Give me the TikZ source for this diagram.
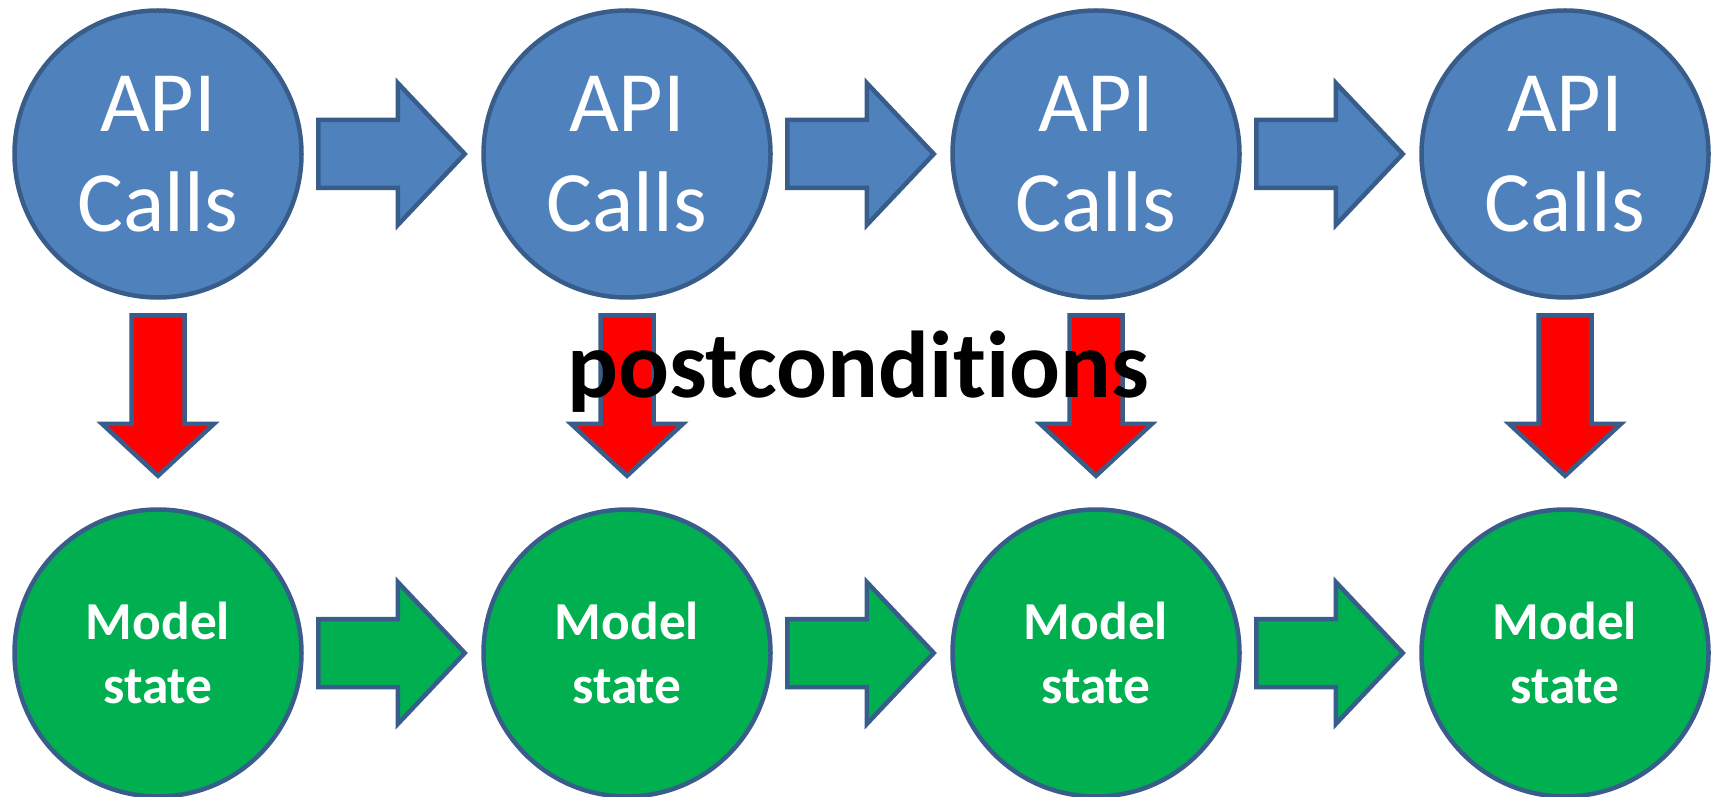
\documentclass[tikz,border=0pt]{standalone}
\usepackage{fontspec}
\setmainfont[Ligatures=CommonOff]{Carlito}
\usetikzlibrary{calc}
\definecolor{callBlue}{HTML}{4F81BD}
\definecolor{edgeBlue}{HTML}{385D8A}
\definecolor{stateGreen}{HTML}{00B050}
\definecolor{postRed}{HTML}{FF0000}

% fat arrow pointing right, from node #1 to node #2
\newcommand{\rightblock}[3]{%
  \draw[blockline, fill=#3]
    ($(#1.east)+(0.145,0.34)$) -- ($(#2.west)+(-0.835,0.34)$)
    -- ($(#2.west)+(-0.835,0.71)$) -- ($(#2.west)+(-0.165,0)$)
    -- ($(#2.west)+(-0.835,-0.71)$) -- ($(#2.west)+(-0.835,-0.34)$)
    -- ($(#1.east)+(0.145,-0.34)$) -- cycle;}
% fat arrow pointing down, from node #1 to node #2
\newcommand{\downblock}[2]{%
  \draw[blockline, fill=postRed]
    ($(#1.south)+(-0.265,-0.155)$) -- ($(#2.north)+(-0.265,0.835)$)
    -- ($(#2.north)+(-0.56,0.835)$) -- ($(#2.north)+(0,0.315)$)
    -- ($(#2.north)+(0.56,0.835)$) -- ($(#2.north)+(0.265,0.835)$)
    -- ($(#1.south)+(0.265,-0.155)$) -- cycle;}

\begin{document}
\begin{tikzpicture}[
    blockline/.style={draw=edgeBlue, line width=0.045cm},
    call/.style={circle, draw=edgeBlue, line width=0.045cm, fill=callBlue,
                 minimum size=2.87cm, inner sep=0pt, align=center, text=white,
                 font=\fontsize{24.5}{28.5}\selectfont},
    state/.style={circle, draw=edgeBlue, line width=0.045cm, fill=stateGreen,
                  minimum size=2.87cm, inner sep=0pt, align=center, text=white,
                  font=\bfseries\fontsize{15.2}{18.2}\selectfont},
  ]
  \useasboundingbox (0,0) rectangle (17.18,-7.97);

  \node[call] (api1) at (1.58,-1.54)  {API\\Calls};
  \node[call] (api2) at (6.27,-1.54)  {API\\Calls};
  \node[call] (api3) at (10.96,-1.54) {API\\Calls};
  \node[call] (api4) at (15.65,-1.54) {API\\Calls};

  \node[state] (state1) at (1.58,-6.53)  {Model\\state};
  \node[state] (state2) at (6.27,-6.53)  {Model\\state};
  \node[state] (state3) at (10.96,-6.53) {Model\\state};
  \node[state] (state4) at (15.65,-6.53) {Model\\state};

  \rightblock{api1}{api2}{callBlue}
  \rightblock{api2}{api3}{callBlue}
  \rightblock{api3}{api4}{callBlue}
  \rightblock{state1}{state2}{stateGreen}
  \rightblock{state2}{state3}{stateGreen}
  \rightblock{state3}{state4}{stateGreen}

  \downblock{api1}{state1}
  \downblock{api2}{state2}
  \downblock{api3}{state3}
  \downblock{api4}{state4}

  \node[anchor=base, inner sep=0pt, font=\bfseries\fontsize{27}{32}\selectfont]
    (post) at (8.58,-3.97) {postconditions};
\end{tikzpicture}
\end{document}
